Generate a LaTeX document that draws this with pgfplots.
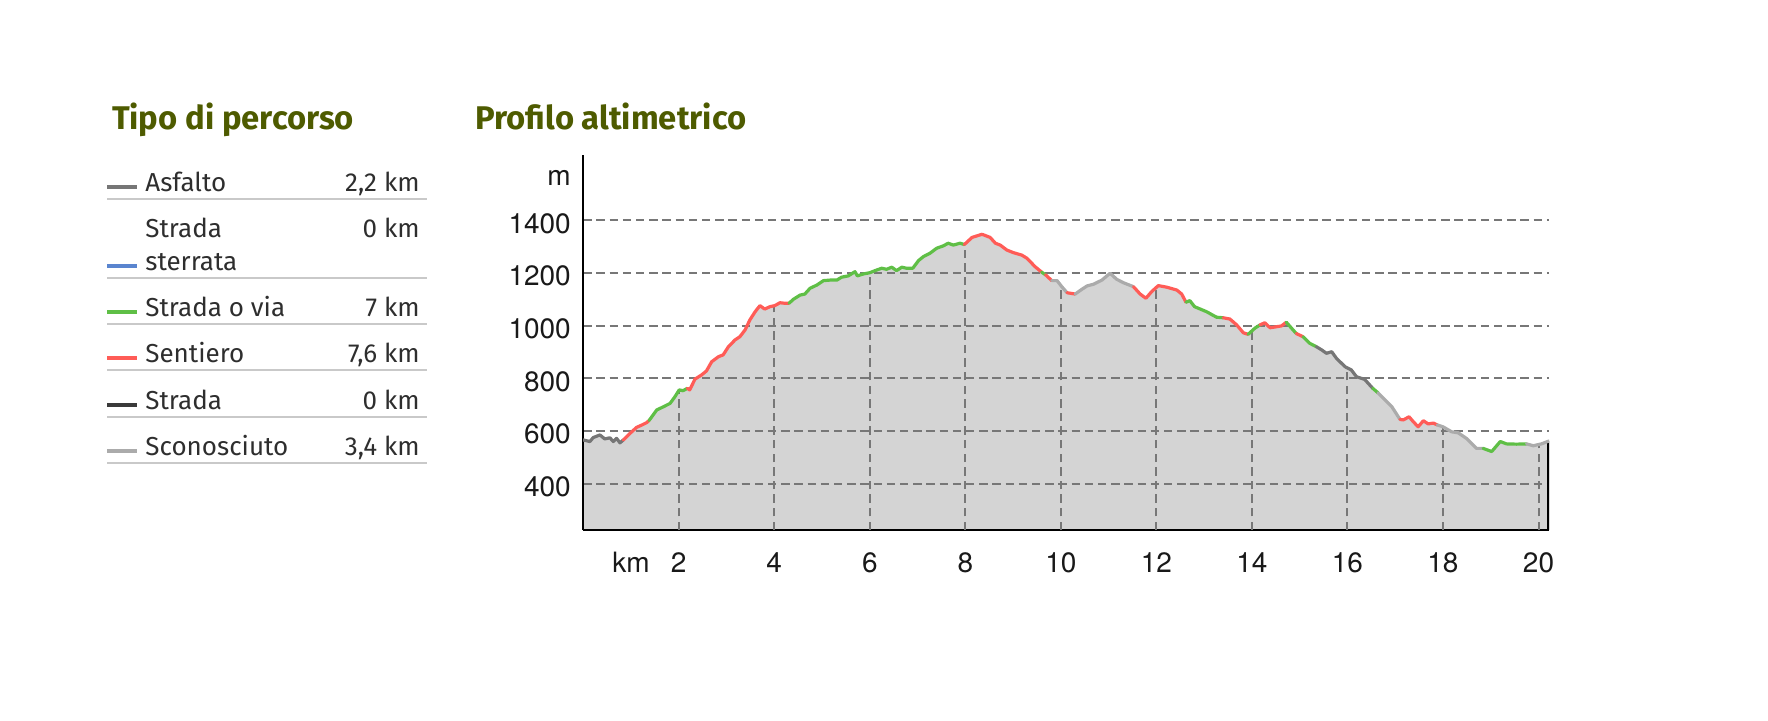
\documentclass[border=0pt]{standalone}
\usepackage{fontspec}
\setmainfont{Fira Sans}
\newfontfamily\heros{TeX Gyre Heros}
\usepackage{pgfplots}
\pgfplotsset{compat=1.18}
\usepackage{pgfplotstable}
\definecolor{olivet}{HTML}{4E5B00}
\definecolor{asf}{HTML}{767676}
\definecolor{ster}{HTML}{5A85CF}
\definecolor{via}{HTML}{5FBF46}
\definecolor{sent}{HTML}{FF5C57}
\definecolor{strd}{HTML}{3A3A3A}
\definecolor{scon}{HTML}{ABABAB}
\definecolor{fillg}{HTML}{D4D4D4}
\definecolor{gridg}{HTML}{777777}
\definecolor{rulec}{HTML}{C9C9C9}
\definecolor{txt}{HTML}{2E2E2E}

\pgfplotstableread{
km elev
0.00 566
0.14 560
0.21 575
0.35 585
0.45 570
0.56 574
0.63 560
0.70 572
0.77 555
0.84 566
0.98 591
1.12 614
1.22 622
1.33 632
1.38 640
1.54 680
1.68 692
1.82 705
1.92 730
2.01 756
2.09 753
2.18 762
2.23 756
2.34 797
2.48 813
2.58 828
2.69 863
2.83 882
2.93 889
3.04 920
3.18 946
3.28 958
3.39 984
3.49 1022
3.60 1053
3.70 1076
3.80 1063
3.91 1072
4.01 1076
4.12 1087
4.22 1085
4.31 1085
4.40 1100
4.54 1116
4.64 1120
4.75 1142
4.89 1154
5.03 1171
5.17 1173
5.31 1173
5.41 1184
5.55 1189
5.69 1205
5.74 1189
5.86 1196
6.00 1201
6.14 1211
6.25 1218
6.35 1214
6.46 1222
6.56 1209
6.67 1222
6.77 1218
6.90 1218
7.02 1247
7.12 1262
7.26 1275
7.40 1294
7.54 1303
7.64 1313
7.75 1306
7.89 1313
7.98 1308
8.14 1335
8.35 1347
8.52 1335
8.63 1313
8.73 1306
8.87 1287
9.01 1277
9.18 1268
9.29 1256
9.46 1224
9.60 1203
9.68 1193
9.81 1171
9.92 1171
10.02 1148
10.13 1125
10.30 1120
10.44 1138
10.55 1151
10.68 1157
10.86 1173
11.03 1199
11.17 1176
11.31 1163
11.52 1148
11.66 1120
11.78 1104
11.90 1129
12.04 1152
12.22 1146
12.43 1135
12.53 1120
12.62 1089
12.70 1095
12.80 1072
13.05 1053
13.26 1032
13.40 1030
13.54 1025
13.68 1003
13.82 973
13.92 967
14.06 990
14.17 1003
14.27 1011
14.38 992
14.52 996
14.62 999
14.72 1013
14.86 984
14.93 970
15.07 958
15.21 933
15.35 920
15.46 908
15.56 895
15.67 901
15.77 876
15.95 844
16.08 832
16.19 806
16.36 796
16.53 762
16.64 745
16.93 692
17.10 644
17.17 642
17.29 654
17.38 635
17.48 616
17.59 639
17.69 627
17.80 630
17.88 623
18.00 616
18.18 597
18.32 593
18.49 572
18.70 534
18.84 534
19.02 522
19.20 560
19.33 551
19.54 550
19.75 551
19.89 544
20.06 551
20.22 562
}\prof

\newcommand\seg[3]{\addplot[#1, line width=1.6pt, line join=round, line cap=round, restrict x to domain=#2:#3] table[x=km,y=elev]{\prof};}

\begin{document}
\begin{tikzpicture}
% ---- legend panel ----
\node[anchor=base west, inner sep=0pt, text=olivet, font=\fontsize{16.4}{19}\selectfont\bfseries] at (55.8pt,295.35pt) {Tipo di percorso};
\node[anchor=base west, inner sep=0pt, text=olivet, font=\fontsize{16.4}{19}\selectfont\bfseries] at (237.5pt,295.35pt) {Profilo altimetrico};

\begin{scope}[every node/.style={inner sep=0pt, text=txt, font=\fontsize{13}{15}\selectfont}]
\draw[asf, line width=2pt] (53.5pt,266.35pt) -- (68.5pt,266.35pt);
\node[anchor=base west] at (72.5pt,264.15pt) {Asfalto};
\node[anchor=base east] at (210pt,264.15pt) {2,2 km};
\draw[rulec, line width=0.8pt] (53.5pt,260.5pt) -- (213.5pt,260.5pt);

\draw[ster, line width=2pt] (53.5pt,227.2pt) -- (68.5pt,227.2pt);
\node[anchor=base west] at (72.5pt,241.15pt) {Strada};
\node[anchor=base west] at (72.5pt,225pt) {sterrata};
\node[anchor=base east] at (210pt,241.15pt) {0 km};
\draw[rulec, line width=0.8pt] (53.5pt,221pt) -- (213.5pt,221pt);

\draw[via, line width=2pt] (53.5pt,203.85pt) -- (68.5pt,203.85pt);
\node[anchor=base west] at (72.5pt,201.65pt) {Strada o via};
\node[anchor=base east] at (210pt,201.65pt) {7 km};
\draw[rulec, line width=0.8pt] (53.5pt,198pt) -- (213.5pt,198pt);

\draw[sent, line width=2pt] (53.5pt,180.85pt) -- (68.5pt,180.85pt);
\node[anchor=base west] at (72.5pt,178.65pt) {Sentiero};
\node[anchor=base east] at (210pt,178.65pt) {7,6 km};
\draw[rulec, line width=0.8pt] (53.5pt,175pt) -- (213.5pt,175pt);

\draw[strd, line width=2pt] (53.5pt,157.7pt) -- (68.5pt,157.7pt);
\node[anchor=base west] at (72.5pt,155.5pt) {Strada};
\node[anchor=base east] at (210pt,155.5pt) {0 km};
\draw[rulec, line width=0.8pt] (53.5pt,151.5pt) -- (213.5pt,151.5pt);

\draw[scon, line width=2pt] (53.5pt,134.35pt) -- (68.5pt,134.35pt);
\node[anchor=base west] at (72.5pt,132.15pt) {Sconosciuto};
\node[anchor=base east] at (210pt,132.15pt) {3,4 km};
\draw[rulec, line width=0.8pt] (53.5pt,128.5pt) -- (213.5pt,128.5pt);
\end{scope}

% ---- elevation profile ----
\begin{axis}[
  set layers,
  at={(291.6pt,95pt)}, anchor=south west,
  scale only axis, width=482.9pt, height=187.5pt,
  xmin=0, xmax=20.22, ymin=224, ymax=1648,
  axis x line*=bottom, axis y line*=left,
  axis line style={-, black, line width=1.2pt},
  major tick length=0pt,
  xtick={2,4,...,20}, xticklabels={2,4,6,8,10,12,14,16,18,20},
  ytick={400,600,...,1400}, yticklabels={400,600,800,1000,1200,1400},
  extra x ticks={1.0}, extra x tick labels={km},
  extra y ticks={1572}, extra y tick labels={m},
  extra tick style={grid=none, major tick length=0pt},
  ymajorgrids, xmajorgrids=false,
  major grid style={gridg, line width=1pt, dash pattern=on 4.2pt off 2.4pt},
  tick label style={font=\heros\fontsize{14}{16}\selectfont, text=black!90, inner sep=0pt},
  yticklabel style={anchor=east, xshift=-6pt, yshift=-1.5pt},
  xticklabel style={anchor=north, yshift=-11pt},
  /pgf/number format/assume math mode=true,
]
\addplot[on layer=axis background, fill=fillg, draw=none] table[x=km,y=elev]{\prof} \closedcycle;

\pgfplotsset{vgrid/.style={gridg, line width=1pt, dash pattern=on 4.2pt off 2.6pt}}
\addplot[vgrid] coordinates {(2,224) (2,752)};
\addplot[vgrid] coordinates {(4,224) (4,1074)};
\addplot[vgrid] coordinates {(6,224) (6,1200)};
\addplot[vgrid] coordinates {(8,224) (8,1306)};
\addplot[vgrid] coordinates {(10,224) (10,1150)};
\addplot[vgrid] coordinates {(12,224) (12,1145)};
\addplot[vgrid] coordinates {(14,224) (14,980)};
\addplot[vgrid] coordinates {(16,224) (16,838)};
\addplot[vgrid] coordinates {(18,224) (18,614)};
\addplot[vgrid] coordinates {(20,224) (20,548)};

\addplot[black, line width=2.4pt] coordinates {(20.22,224) (20.22,562)};

\seg{asf}{-0.01}{0.841}
\seg{sent}{0.839}{1.381}
\seg{via}{1.379}{2.181}
\seg{sent}{2.179}{4.311}
\seg{via}{4.309}{7.981}
\seg{sent}{7.979}{9.601}
\seg{via}{9.599}{9.681}
\seg{sent}{9.679}{9.811}
\seg{scon}{9.809}{10.131}
\seg{sent}{10.129}{10.301}
\seg{scon}{10.299}{11.521}
\seg{sent}{11.519}{12.621}
\seg{via}{12.619}{13.401}
\seg{sent}{13.399}{13.921}
\seg{via}{13.919}{14.171}
\seg{sent}{14.169}{14.721}
\seg{via}{14.719}{14.931}
\seg{sent}{14.929}{15.071}
\seg{via}{15.069}{15.351}
\seg{asf}{15.349}{16.531}
\seg{via}{16.529}{16.641}
\seg{scon}{16.639}{17.101}
\seg{sent}{17.099}{17.881}
\seg{scon}{17.879}{18.841}
\seg{via}{18.839}{19.751}
\seg{scon}{19.749}{20.23}
\end{axis}
\path (0,0) rectangle (884pt,360pt);
\end{tikzpicture}
\end{document}
